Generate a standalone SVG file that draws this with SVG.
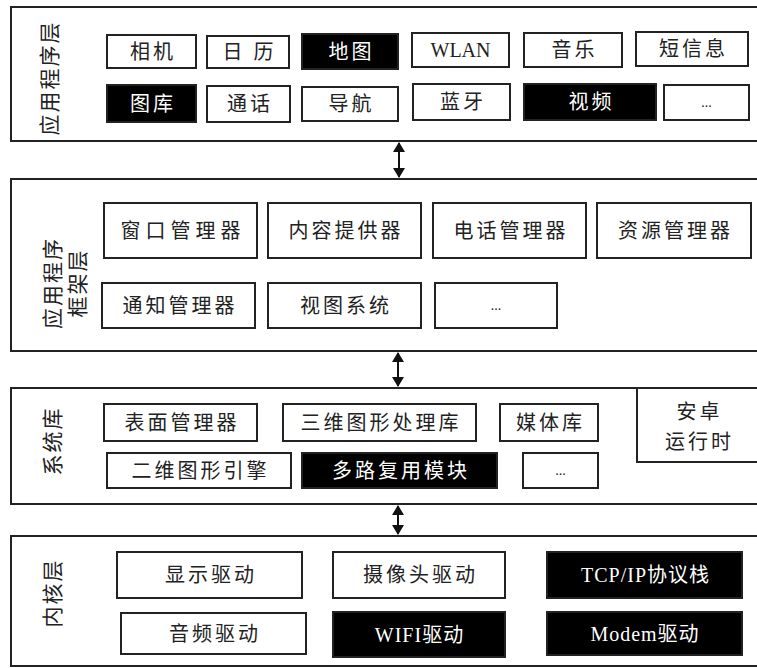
<svg xmlns="http://www.w3.org/2000/svg" width="757" height="668" viewBox="0 0 757 668">
<defs>
<style>
.layer{fill:#fff;stroke:#222;stroke-width:2}
.w{fill:#fff;stroke:#222;stroke-width:2}
.b{fill:#000;stroke:#222;stroke-width:2}
text{font-family:"Liberation Serif","Noto Sans CJK SC",serif;font-size:20px;text-anchor:middle;dominant-baseline:central;letter-spacing:3px}
.tw{fill:#222}
.tb{fill:#fff}
.lat{letter-spacing:0}
.wide{letter-spacing:5px}
.lbl{font-size:21px;fill:#222;letter-spacing:2px}
.conn{stroke:#111;stroke-width:2;fill:none}
</style>
<marker id="ah" markerWidth="12" markerHeight="12" refX="9" refY="6" orient="auto-start-reverse" markerUnits="userSpaceOnUse">
<path d="M0,0 L10,6 L0,12 Z" fill="#111"/>
</marker>
</defs>

<g id="layer-app">
<rect class="layer" x="11" y="7" width="750" height="134"/>
<text class="lbl" transform="translate(50,78) rotate(-90)">应用程序层</text>
</g>
<g id="n-camera"><rect class="w" x="107" y="35" width="89" height="33"/><text class="tw" x="153" y="51.5">相机</text></g>
<g id="n-calendar"><rect class="w" x="207" y="36" width="82" height="32"/><text class="tw" x="249.5" y="52">日 历</text></g>
<g id="n-map"><rect class="b" x="302" y="34" width="96" height="35"/><text class="tb" x="351.5" y="51.5">地图</text></g>
<g id="n-wlan"><rect class="w" x="412" y="33" width="97" height="34"/><text class="tw lat" x="460.5" y="50">WLAN</text></g>
<g id="n-music"><rect class="w" x="524" y="33" width="98" height="34"/><text class="tw" x="574.5" y="50">音乐</text></g>
<g id="n-sms"><rect class="w" x="636" y="32" width="112" height="34"/><text class="tw" x="693.5" y="49">短信息</text></g>
<g id="n-gallery"><rect class="b" x="107" y="85" width="89" height="37"/><text class="tb" x="153" y="103.5">图库</text></g>
<g id="n-call"><rect class="w" x="207" y="86" width="83" height="36"/><text class="tw" x="250" y="104">通话</text></g>
<g id="n-nav"><rect class="w" x="302" y="87" width="96" height="34"/><text class="tw" x="351.5" y="104">导航</text></g>
<g id="n-bt"><rect class="w" x="413" y="84" width="97" height="36"/><text class="tw" x="463" y="102">蓝牙</text></g>
<g id="n-video"><rect class="b" x="524" y="84" width="132" height="36"/><text class="tb" x="591.5" y="102">视频</text></g>
<g id="n-more1"><rect class="w" x="664" y="85" width="85" height="35"/><text class="tw lat" x="706.5" y="102.5" style="font-size:14px">...</text></g>

<g id="layer-fw">
<rect class="layer" x="11" y="179" width="750" height="172"/>
<text class="lbl" transform="translate(53,283) rotate(-90)">应用程序</text>
<text class="lbl" transform="translate(78,283) rotate(-90)">框架层</text>
</g>
<g id="n-wm"><rect class="w" x="104" y="203" width="153" height="55"/><text class="tw wide" x="183" y="230.5">窗口管理器</text></g>
<g id="n-cp"><rect class="w" x="268" y="203" width="153" height="55"/><text class="tw" x="346" y="230.5">内容提供器</text></g>
<g id="n-tm"><rect class="w" x="433" y="203" width="153" height="55"/><text class="tw" x="511" y="230.5">电话管理器</text></g>
<g id="n-rm"><rect class="w" x="597" y="203" width="154" height="55"/><text class="tw" x="675.5" y="230.5">资源管理器</text></g>
<g id="n-nm"><rect class="w" x="102" y="283" width="153" height="45"/><text class="tw" x="180" y="305.5">通知管理器</text></g>
<g id="n-vs"><rect class="w" x="268" y="283" width="153" height="45"/><text class="tw" x="346" y="305.5">视图系统</text></g>
<g id="n-more2"><rect class="w" x="435" y="283" width="122" height="45"/><text class="tw lat" x="496" y="305.5" style="font-size:14px">...</text></g>

<g id="layer-lib">
<rect class="layer" x="11" y="388" width="750" height="116"/>
<text class="lbl" transform="translate(53,441) rotate(-90)">系统库</text>
</g>
<g id="n-art"><path d="M637,388 V462 H761" class="w" fill="none"/><text class="tw" x="699.5" y="412">安卓</text><text class="tw" x="699.5" y="442">运行时</text></g>
<g id="n-sf"><rect class="w" x="104" y="404" width="153" height="37"/><text class="tw" x="182" y="422.5">表面管理器</text></g>
<g id="n-3d"><rect class="w" x="283" y="404" width="193" height="37"/><text class="tw" x="381" y="422.5">三维图形处理库</text></g>
<g id="n-media"><rect class="w" x="500" y="404" width="98" height="37"/><text class="tw" x="550.5" y="422.5">媒体库</text></g>
<g id="n-2d"><rect class="w" x="107" y="453" width="184" height="35"/><text class="tw" x="200.5" y="470.5">二维图形引擎</text></g>
<g id="n-mux"><rect class="b" x="302" y="453" width="195" height="35"/><text class="tb" x="401" y="470.5">多路复用模块</text></g>
<g id="n-more3"><rect class="w" x="523" y="453" width="75" height="35"/><text class="tw lat" x="560.5" y="470.5" style="font-size:14px">...</text></g>

<g id="layer-kernel">
<rect class="layer" x="11" y="536" width="750" height="130"/>
<text class="lbl" transform="translate(53,593) rotate(-90)">内核层</text>
</g>
<g id="n-disp"><rect class="w" x="117" y="552" width="185" height="46"/><text class="tw" x="211" y="575">显示驱动</text></g>
<g id="n-cam"><rect class="w" x="333" y="552" width="172" height="46"/><text class="tw" x="420.5" y="575">摄像头驱动</text></g>
<g id="n-tcp"><rect class="b" x="547" y="552" width="195" height="46"/><text class="tb" x="645.5" y="575" style="letter-spacing:1px">TCP/IP协议栈</text></g>
<g id="n-audio"><rect class="w" x="121" y="613" width="185" height="41"/><text class="tw" x="215" y="633.5">音频驱动</text></g>
<g id="n-wifi"><rect class="b" x="333" y="612" width="172" height="45"/><text class="tb" x="419.5" y="634.5" style="letter-spacing:1px">WIFI驱动</text></g>
<g id="n-modem"><rect class="b" x="547" y="612" width="195" height="43"/><text class="tb" x="645" y="633.5" style="letter-spacing:1px">Modem驱动</text></g>

<g id="connectors">
<line class="conn" x1="399" y1="143" x2="399" y2="177" marker-start="url(#ah)" marker-end="url(#ah)"/>
<line class="conn" x1="398" y1="353" x2="398" y2="386" marker-start="url(#ah)" marker-end="url(#ah)"/>
<line class="conn" x1="398" y1="506" x2="398" y2="534" marker-start="url(#ah)" marker-end="url(#ah)"/>
</g>
</svg>
